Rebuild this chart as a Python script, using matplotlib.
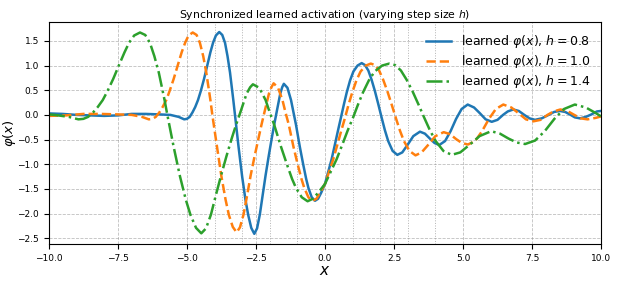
import matplotlib
matplotlib.use("Agg")
import matplotlib.pyplot as plt

# values
x_h08 = [-10.0, -9.5, -9.0, -8.5, -8.0, -7.5, -7.0, -6.5, -6.0, -5.6, -5.3, -5.1,
         -5.0, -4.9, -4.8, -4.7, -4.6, -4.5, -4.38, -4.26, -4.15, -4.05, -3.95,
         -3.83, -3.72, -3.62, -3.53, -3.44, -3.32, -3.26, -3.13, -3.0, -2.88,
         -2.78, -2.67, -2.56, -2.46, -2.36, -2.25, -2.15, -2.04, -1.93, -1.84,
         -1.75, -1.62, -1.55, -1.49, -1.36, -1.23, -1.14, -1.05, -0.91, -0.79, -0.68,
         -0.6, -0.48, -0.36, -0.25, -0.14, 0.0, 0.12, 0.24, 0.36, 0.47, 0.58,
         0.68, 0.79, 0.91, 1.03, 1.18, 1.33, 1.45, 1.57, 1.69, 1.81, 1.93, 2.05,
         2.17, 2.29, 2.45, 2.62, 2.8, 3.0, 3.2, 3.44, 3.62, 3.8, 3.97, 4.14,
         4.35, 4.55, 4.75, 4.95, 5.17, 5.4, 5.6, 5.82, 6.04, 6.25, 6.45, 6.62,
         6.82, 7.02, 7.22, 7.41, 7.61, 7.85, 8.1, 8.3, 8.51, 8.7, 8.9, 9.05,
         9.24, 9.45, 9.65, 9.85, 10.0]
y_h08 = [0.03, 0.02, 0.0, -0.01, -0.02, -0.01, 0.02, 0.02, 0.01, 0.0, -0.04, -0.09,
         -0.08, -0.04, 0.05, 0.16, 0.3, 0.48, 0.73, 1.01, 1.27, 1.47, 1.61,
         1.68, 1.62, 1.46, 1.19, 0.86, 0.3, 0.0, -0.65, -1.25, -1.72,
         -2.03, -2.29, -2.41, -2.3, -2.02, -1.6, -1.22, -0.84, -0.48, -0.2,
         0.06, 0.43, 0.56, 0.63, 0.55, 0.3, 0.05, -0.2, -0.65, -1.0, -1.3,
         -1.48, -1.67, -1.74, -1.7, -1.58, -1.4, -1.15, -0.9, -0.6, -0.32, -0.05,
         0.2, 0.46, 0.7, 0.88, 1.0, 1.05, 1.01, 0.9, 0.71, 0.48, 0.22, -0.05,
         -0.31, -0.53, -0.73, -0.81, -0.76, -0.6, -0.43, -0.34, -0.38, -0.48, -0.57, -0.61,
         -0.53, -0.33, -0.08, 0.12, 0.21, 0.15, 0.04, -0.09, -0.14, -0.1, 0.0, 0.07,
         0.11, 0.08, 0.0, -0.07, -0.1, -0.07, 0.0, 0.06, 0.08, 0.06, 0.0, -0.05,
         -0.07, -0.04, 0.01, 0.07, 0.08]

x_h10 = [-10.0, -9.38, -8.75, -8.13, -7.5, -7.0, -6.63, -6.38, -6.25, -6.13, -6.0,
         -5.88, -5.75, -5.63, -5.48, -5.33, -5.19, -5.06, -4.94, -4.79, -4.65,
         -4.53, -4.41, -4.3, -4.15, -4.08, -3.91, -3.75, -3.6, -3.48, -3.34,
         -3.2, -3.08, -2.95, -2.81, -2.69, -2.55, -2.41, -2.3, -2.19, -2.03,
         -1.94, -1.86, -1.7, -1.54, -1.43, -1.31, -1.14, -0.99, -0.85, -0.75, -0.6,
         -0.45, -0.31, -0.18, 0.0, 0.15, 0.3, 0.45, 0.59, 0.73, 0.85, 0.99,
         1.14, 1.29, 1.48, 1.66, 1.81, 1.96, 2.11, 2.26, 2.41, 2.56, 2.71, 2.86,
         3.06, 3.28, 3.5, 3.75, 4.0, 4.3, 4.53, 4.75, 4.96, 5.18, 5.44, 5.69,
         5.94, 6.19, 6.46, 6.75, 7.0, 7.28, 7.55, 7.81, 8.06, 8.28, 8.53, 8.78,
         9.03, 9.26, 9.51, 9.81, 10.0]
y_h10 = [-0.02, -0.01, 0.02, 0.02, 0.01, 0.0, -0.04, -0.09, -0.08, -0.04, 0.05,
         0.16, 0.3, 0.48, 0.73, 1.01, 1.27, 1.47, 1.61, 1.67, 1.62,
         1.46, 1.19, 0.86, 0.3, 0.0, -0.65, -1.25, -1.72, -2.03, -2.27,
         -2.38, -2.28, -2.02, -1.6, -1.22, -0.84, -0.48, -0.2, 0.06, 0.43,
         0.56, 0.64, 0.55, 0.3, 0.05, -0.2, -0.65, -1.0, -1.3, -1.48, -1.67,
         -1.74, -1.7, -1.58, -1.4, -1.15, -0.9, -0.6, -0.32, -0.05, 0.2, 0.46,
         0.7, 0.88, 1.0, 1.04, 1.01, 0.9, 0.71, 0.48, 0.22, -0.05, -0.31, -0.53,
         -0.73, -0.82, -0.76, -0.6, -0.43, -0.35, -0.39, -0.49, -0.57, -0.6,
         -0.53, -0.33, -0.08, 0.12, 0.21, 0.15, 0.04, -0.09, -0.13, -0.1, 0.0,
         0.07, 0.11, 0.08, 0.0, -0.07, -0.09, -0.06, -0.03]

x_h14 = [-10.0, -9.8, -9.28, -8.93, -8.75, -8.58, -8.4, -8.23, -8.05, -7.88,
         -7.67, -7.46, -7.26, -7.09, -6.91, -6.7, -6.51, -6.34, -6.18, -6.02,
         -5.81, -5.71, -5.48, -5.25, -5.04, -4.87, -4.67, -4.48, -4.31, -4.13,
         -3.94, -3.76, -3.57, -3.38, -3.22, -3.06, -2.84, -2.71, -2.61, -2.38, -2.15,
         -2.0, -1.84, -1.59, -1.38, -1.19, -1.05, -0.84, -0.63, -0.44, -0.25,
         0.0, 0.21, 0.42, 0.63, 0.82, 1.02, 1.19, 1.38, 1.59, 1.8, 2.07, 2.33,
         2.54, 2.75, 2.96, 3.17, 3.38, 3.59, 3.8, 4.01, 4.29, 4.59, 4.9, 5.25,
         5.6, 6.02, 6.34, 6.65, 6.95, 7.25, 7.61, 7.96, 8.31, 8.66, 9.05, 9.45,
         9.8, 10.0]
y_h14 = [0.01, 0.0, -0.04, -0.09, -0.08, -0.04, 0.05, 0.16, 0.3, 0.48,
         0.73, 1.01, 1.27, 1.47, 1.61, 1.67, 1.62, 1.46, 1.19, 0.86,
         0.3, 0.0, -0.65, -1.25, -1.72, -2.03, -2.29, -2.4, -2.3, -2.02,
         -1.6, -1.22, -0.84, -0.48, -0.2, 0.06, 0.43, 0.56, 0.62, 0.55, 0.3,
         0.05, -0.2, -0.65, -1.0, -1.3, -1.48, -1.67, -1.75, -1.7, -1.58,
         -1.4, -1.15, -0.9, -0.6, -0.32, -0.05, 0.2, 0.46, 0.7, 0.88, 1.0, 1.04,
         1.01, 0.9, 0.71, 0.48, 0.22, -0.05, -0.31, -0.53, -0.73, -0.81, -0.76, -0.6,
         -0.43, -0.33, -0.38, -0.48, -0.56, -0.59, -0.52, -0.33, -0.08, 0.12, 0.21, 0.15,
         0.04, -0.03]

extra_vlines = [-4, -3, -2, -1, 1, 2, 3, 4]

fig = plt.figure(figsize=(6.19, 2.81), dpi=100)
ax = fig.add_axes([0.079, 0.132, 0.892, 0.79])

ax.plot(x_h08, y_h08, color="#1f77b4", lw=1.8, label=r"learned $\varphi(x)$, $h=0.8$")
ax.plot(x_h10, y_h10, color="#ff7f0e", lw=1.8, ls="--", label=r"learned $\varphi(x)$, $h=1.0$")
ax.plot(x_h14, y_h14, color="#2ca02c", lw=1.8, ls="-.", label=r"learned $\varphi(x)$, $h=1.4$")

# thin dotted lines at the integer points
for v in extra_vlines:
    ax.axvline(v, color="gray", ls=":", lw=0.7, alpha=0.6, zorder=0)

ax.set_xlim(-10, 10)
ax.grid(True, ls="--", lw=0.6, color="gray", alpha=0.5)
ax.tick_params(labelsize=6.5)
ax.set_title(r"Synchronized learned activation (varying step size $h$)", fontsize=7.8, pad=3)
ax.set_xlabel(r"$x$", fontsize=11)
ax.set_ylabel(r"$\varphi(x)$", fontsize=9.5)
ax.xaxis.set_label_coords(0.5, -0.086)
ax.yaxis.set_label_coords(-0.056, 0.5)
ax.legend(loc="upper right", frameon=False, fontsize=9, labelspacing=0.25)

fig.savefig("out.png", dpi=100)
